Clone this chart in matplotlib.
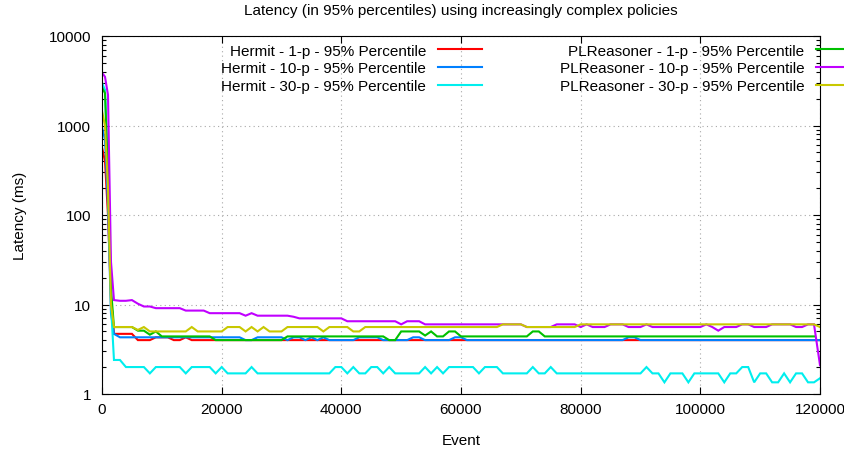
import numpy as np
import matplotlib
matplotlib.use("Agg")
import matplotlib.pyplot as plt
from matplotlib.ticker import NullFormatter, LogLocator

plt.rcParams['font.family'] = ['Liberation Sans', 'DejaVu Sans']

# ---------------- data ----------------
events = [0, 500, 1000, 1500] + list(range(2000, 120001, 1000))

hermit_1p = [570, 400, 100, 12,
             4.7, 4.7, 4.7, 4.7, 4.0, 4.0, 4.0, 4.3, 4.3, 4.3,
             4.0, 4.0, 4.3, 4.0, 4.0, 4.0, 4.0, 4.0, 4.0, 4.0,
             4.0, 4.0, 4.0, 4.0, 4.0, 4.0, 4.0, 4.0, 4.0, 4.0,
             4.0, 4.0, 4.0, 4.0, 4.0, 4.0, 4.0, 4.0, 4.0, 4.0,
             4.0, 4.0, 4.0, 4.0, 4.0, 4.0, 4.0, 4.0, 4.0, 4.0,
             4.0, 4.0, 4.0, 4.0, 4.0, 4.0, 4.0, 4.0, 4.0, 4.0,
             4.0, 4.0, 4.0, 4.0, 4.0, 4.0, 4.0, 4.0, 4.0, 4.0,
             4.0, 4.0, 4.0, 4.0, 4.0, 4.0, 4.0, 4.0, 4.0, 4.0,
             4.0, 4.0, 4.0, 4.0, 4.0, 4.0, 4.0, 4.0, 4.0, 4.0,
             4.0, 4.0, 4.0, 4.0, 4.0, 4.0, 4.0, 4.0, 4.0, 4.0,
             4.0, 4.0, 4.0, 4.0, 4.0, 4.0, 4.0, 4.0, 4.0, 4.0,
             4.0, 4.0, 4.0, 4.0, 4.0, 4.0, 4.0, 4.0, 4.0]

hermit_10p = [950, 700, 130, 8,
              4.7, 4.3, 4.3, 4.3, 4.3, 4.3, 4.3, 4.3, 4.3, 4.3,
              4.3, 4.3, 4.3, 4.3, 4.3, 4.3, 4.3, 4.3, 4.3, 4.3,
              4.3, 4.3, 4.0, 4.0, 4.3, 4.3, 4.3, 4.3, 4.3, 4.0,
              4.3, 4.3, 4.0, 4.3, 4.0, 4.3, 4.0, 4.0, 4.0, 4.0,
              4.0, 4.3, 4.3, 4.3, 4.3, 4.0, 4.0, 4.0, 4.0, 4.0,
              4.3, 4.3, 4.0, 4.0, 4.0, 4.0, 4.0, 4.3, 4.3, 4.0,
              4.0, 4.0, 4.0, 4.0, 4.0, 4.0, 4.0, 4.0, 4.0, 4.0,
              4.0, 4.0, 4.0, 4.0, 4.0, 4.0, 4.0, 4.0, 4.0, 4.0,
              4.0, 4.0, 4.0, 4.0, 4.0, 4.0, 4.3, 4.3, 4.0, 4.0,
              4.0, 4.0, 4.0, 4.0, 4.0, 4.0, 4.0, 4.0, 4.0, 4.0,
              4.0, 4.0, 4.0, 4.0, 4.0, 4.0, 4.0, 4.0, 4.0, 4.0,
              4.0, 4.0, 4.0, 4.0, 4.0, 4.0, 4.0, 4.0, 4.0]

hermit_30p = [3000, 2500, 300, 10,
              2.4, 2.4, 2.0, 2.0, 2.0, 2.0, 1.7, 2.0, 2.0, 2.0,
              2.0, 2.0, 1.7, 2.0, 2.0, 2.0, 2.0, 1.7, 2.0, 1.7,
              1.7, 1.7, 1.7, 2.0, 1.7, 1.7, 1.7, 1.7, 1.7, 1.7,
              1.7, 1.7, 1.7, 1.7, 1.7, 1.7, 1.7, 2.0, 2.0, 1.7,
              2.0, 1.7, 1.7, 2.0, 2.0, 1.7, 2.0, 1.7, 1.7, 1.7,
              1.7, 1.7, 2.0, 1.7, 2.0, 1.7, 2.0, 2.0, 2.0, 2.0,
              2.0, 1.7, 2.0, 2.0, 2.0, 1.7, 1.7, 1.7, 1.7, 1.7,
              2.0, 1.7, 1.7, 2.0, 1.7, 1.7, 1.7, 1.7, 1.7, 1.7,
              1.7, 1.7, 1.7, 1.7, 1.7, 1.7, 1.7, 1.7, 1.7, 2.0,
              1.7, 1.7, 1.35, 1.7, 1.7, 1.7, 1.35, 1.7, 1.7, 1.7,
              1.7, 1.7, 1.35, 1.7, 1.7, 2.0, 2.0, 1.35, 1.7, 1.7,
              1.35, 1.35, 1.7, 1.35, 1.7, 1.7, 1.35, 1.35, 1.5]

plr_1p = [2650, 2300, 300, 15,
          5.6, 5.6, 5.6, 5.6, 5.1, 5.1, 4.6, 5.0, 4.4, 4.4,
          4.4, 4.4, 4.4, 4.4, 4.4, 4.4, 4.4, 4.0, 4.0, 4.0,
          4.0, 4.0, 4.0, 4.0, 4.0, 4.0, 4.0, 4.0, 4.0, 4.4,
          4.4, 4.4, 4.4, 4.4, 4.4, 4.4, 4.4, 4.4, 4.4, 4.4,
          4.4, 4.4, 4.4, 4.4, 4.4, 4.4, 4.0, 4.0, 5.0, 5.0,
          5.0, 5.0, 4.5, 5.0, 4.4, 4.4, 5.0, 5.0, 4.4, 4.4,
          4.4, 4.4, 4.4, 4.4, 4.4, 4.4, 4.4, 4.4, 4.4, 4.4,
          5.0, 5.0, 4.4, 4.4, 4.4, 4.4, 4.4, 4.4, 4.4, 4.4,
          4.4, 4.4, 4.4, 4.4, 4.4, 4.4, 4.4, 4.4, 4.4, 4.4,
          4.4, 4.4, 4.4, 4.4, 4.4, 4.4, 4.4, 4.4, 4.4, 4.4,
          4.4, 4.4, 4.4, 4.4, 4.4, 4.4, 4.4, 4.4, 4.4, 4.4,
          4.4, 4.4, 4.4, 4.4, 4.4, 4.4, 4.4, 4.4, np.nan]

plr_10p = [3900, 3500, 2200, 30,
           11.2, 11.0, 11.0, 11.2, 10.2, 9.5, 9.5, 9.1, 9.1, 9.1,
           9.1, 9.1, 8.55, 8.55, 8.55, 8.55, 8.0, 8.0, 8.0, 8.0,
           8.0, 8.0, 7.5, 8.0, 7.5, 7.5, 7.5, 7.5, 7.5, 7.5,
           7.3, 7.0, 7.0, 7.0, 7.0, 7.0, 7.0, 7.0, 7.0, 6.5,
           6.5, 6.5, 6.5, 6.5, 6.5, 6.5, 6.5, 6.5, 6.0, 6.5,
           6.5, 6.5, 6.0, 6.0, 6.0, 6.0, 6.0, 6.0, 6.0, 6.0,
           6.0, 6.0, 6.0, 6.0, 6.0, 6.0, 6.0, 6.0, 6.0, 5.6,
           5.6, 5.6, 5.6, 5.6, 6.0, 6.0, 6.0, 6.0, 5.6, 6.0,
           5.6, 5.6, 5.6, 6.0, 6.0, 6.0, 5.6, 5.6, 5.6, 6.0,
           5.6, 5.6, 5.6, 5.6, 5.6, 5.6, 5.6, 5.6, 5.6, 6.0,
           5.6, 5.1, 5.6, 5.6, 5.6, 6.0, 6.0, 5.6, 5.6, 5.6,
           6.0, 6.0, 6.0, 6.0, 5.6, 5.6, 6.0, 6.0, 2.1]

plr_30p = [1450, 1000, 200, 10,
           5.6, 5.6, 5.6, 5.6, 5.2, 5.6, 5.0, 5.0, 5.0, 5.0,
           5.0, 5.0, 5.0, 5.6, 5.0, 5.0, 5.0, 5.0, 5.0, 5.6,
           5.6, 5.6, 5.0, 5.6, 5.0, 5.6, 5.0, 5.0, 5.0, 5.6,
           5.6, 5.6, 5.6, 5.6, 5.6, 5.0, 5.6, 5.6, 5.6, 5.6,
           5.0, 5.0, 5.6, 5.6, 5.6, 5.6, 5.6, 5.6, 5.6, 5.6,
           5.6, 5.6, 5.6, 5.6, 5.6, 5.6, 5.6, 5.6, 5.6, 5.6,
           5.6, 5.6, 5.6, 5.6, 5.6, 6.0, 6.0, 6.0, 6.0, 5.6,
           5.6, 5.6, 5.6, 5.6, 5.6, 5.6, 5.6, 5.6, 6.0, 6.0,
           6.0, 6.0, 6.0, 6.0, 6.0, 6.0, 6.0, 6.0, 6.0, 6.0,
           6.0, 6.0, 6.0, 6.0, 6.0, 6.0, 6.0, 6.0, 6.0, 6.0,
           6.0, 6.0, 6.0, 6.0, 6.0, 6.0, 6.0, 6.0, 6.0, 6.0,
           6.0, 6.0, 6.0, 6.0, 6.0, 6.0, 6.0, 6.0, 5.6]

series = [hermit_1p, hermit_10p, hermit_30p, plr_1p, plr_10p, plr_30p]
labels = ["Hermit - 1-p - 95% Percentile",
          "Hermit - 10-p - 95% Percentile",
          "Hermit - 30-p - 95% Percentile",
          "PLReasoner - 1-p - 95% Percentile",
          "PLReasoner - 10-p - 95% Percentile",
          "PLReasoner - 30-p - 95% Percentile"]
colors = ["#ff0000", "#0080ff", "#00eeee", "#00c000", "#c000ff", "#c8c800"]

xticks = [0, 20000, 40000, 60000, 80000, 100000, 120000]
xtick_labels = ["0", "20000", "40000", "60000", "80000", "100000", "120000"]
yticks = [1, 10, 100, 1000, 10000]
ytick_labels = ["1", "10", "100", "1000", "10000"]

title = "Latency (in 95% percentiles) using increasingly complex policies"
xlabel = "Event"
ylabel = "Latency (ms)"

# ---------------- plot ----------------
W, H = 845, 452
fig = plt.figure(figsize=(W / 100, H / 100), dpi=100)
ax = fig.add_axes([102 / W, 57 / H, 718 / W, 358 / H])

handles = []
for vals, lab, col in zip(series, labels, colors):
    n = min(len(vals), len(events))
    h, = ax.plot(events[:n], vals[:n], color=col, lw=1.5, label=lab,
                 solid_joinstyle='miter')
    handles.append(h)

ax.set_yscale('log')
ax.set_xlim(0, 120000)
ax.set_ylim(1, 10000)
ax.set_xticks(xticks)
ax.set_xticklabels(xtick_labels)
ax.set_yticks(yticks)
ax.set_yticklabels(ytick_labels)
ax.yaxis.set_minor_locator(LogLocator(base=10, subs=np.arange(2, 10)))
ax.yaxis.set_minor_formatter(NullFormatter())

ax.tick_params(which='both', direction='in', top=True, right=True,
               labelsize=11, width=0.8)
ax.tick_params(which='major', length=5)
ax.tick_params(which='minor', length=3)
ax.tick_params(axis='x', pad=6)
ax.tick_params(axis='y', pad=8)
for s in ax.spines.values():
    s.set_linewidth(0.8)

ax.grid(True, which='major', color='#a8a8a8', linestyle=(0, (1, 3)), linewidth=0.8)

ax.set_title(title, fontsize=11, pad=16)
ax.set_xlabel(xlabel, fontsize=11)
ax.xaxis.set_label_coords(0.5, -0.108)
ax.set_ylabel(ylabel, fontsize=11)
ax.yaxis.set_label_coords(-0.104, 0.5)

common = dict(loc='upper right', markerfirst=False, frameon=False,
              handlelength=2.9, handletextpad=0.75, labelspacing=0.26,
              borderpad=0, borderaxespad=0, fontsize=11,
              bbox_transform=ax.transAxes)
leg1 = ax.legend(handles[:3], labels[:3], bbox_to_anchor=(0.529, 0.979), **common)
ax.add_artist(leg1)
leg2 = ax.legend(handles[3:], labels[3:], bbox_to_anchor=(1.0557, 0.979), **common)

fig.savefig("out.png", dpi=100)
